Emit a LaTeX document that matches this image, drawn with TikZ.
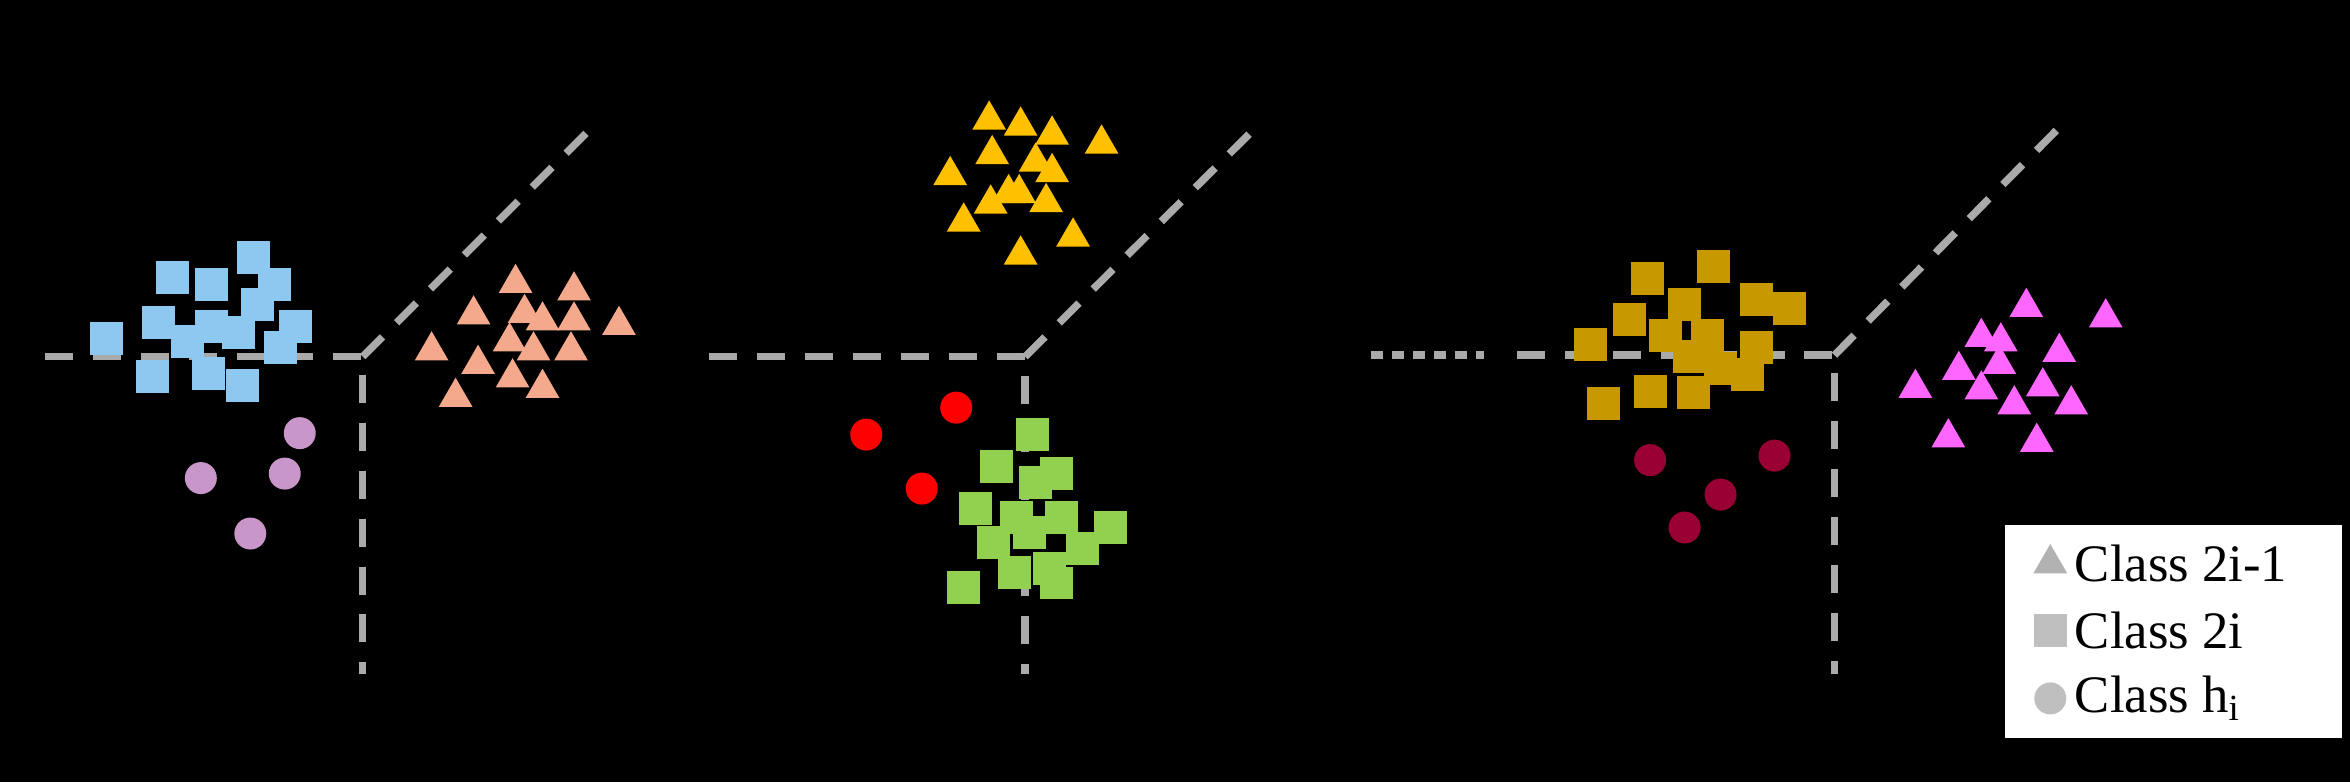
\documentclass[tikz,border=0pt]{standalone}
\usepackage{fontspec}
\setmainfont{Liberation Serif}
\usetikzlibrary{shapes.geometric}

\definecolor{axgray}{HTML}{AAAAAA}
\definecolor{skyb}{HTML}{8CC8F0}
\definecolor{lilac}{HTML}{C896C8}
\definecolor{salmon}{HTML}{F4A88C}
\definecolor{amber}{HTML}{FFC000}
\definecolor{leaf}{HTML}{92D050}
\definecolor{ochre}{HTML}{C89800}
\definecolor{wine}{HTML}{990033}
\definecolor{pinkm}{HTML}{FF66FF}

\tikzset{
  axis/.style={axgray, line width=0.75mm, dash pattern=on 2.8mm off 2mm},
  tri/.style={regular polygon, regular polygon sides=3, minimum size=3.9mm, inner sep=0pt, fill=#1},
  sq/.style={rectangle, minimum size=3.3mm, inner sep=0pt, fill=#1},
  dot/.style={circle, minimum size=3.2mm, inner sep=0pt, fill=#1},
}

\begin{document}
\begin{tikzpicture}[x=0.15mm, y=-0.15mm]
  \fill[black] (0,0) rectangle (1568,522);

  % panel 1
  \coordinate (O1) at (242,238);
  \coordinate (L1) at (30,238);
  \coordinate (D1) at (242,450);
  \coordinate (U1) at (395,85);
  \draw[axis] (L1) -- (O1) -- (D1);
  \draw[axis] (O1) -- (U1);
  \foreach \p [count=\i] in {(115,185),(141,190),(169,172),(183,190),(106,215),(141,218),(125,228),(159,222),(172,203),(197,218),(187,232),(71,226),(102,251),(139,249),(162,257)}
    \node[sq=skyb] (bs\i) at \p {};
  \foreach \p [count=\i] in {(200,289),(134,319),(190,316),(167,356)}
    \node[dot=lilac] (lc\i) at \p {};
  \foreach \p [count=\i] in {(344,189),(383,194),(316,210),(350,209),(362,214),(383,214),(413,217),(288,234),(319,243),(340,228),(356,234),(381,234),(304,265),(342,252),(362,259)}
    \node[tri=salmon] (st\i) at \p {};

  % panel 2
  \coordinate (O2) at (684,238);
  \coordinate (L2) at (473,238);
  \coordinate (D2) at (684,450);
  \coordinate (U2) at (838,85);
  \draw[axis] (L2) -- (O2) -- (D2);
  \draw[axis] (O2) -- (U2);
  \foreach \p [count=\i] in {(660,80),(681,84),(702,90),(735,96),(662,103),(691,108),(702,115),(634,117),(673,129),(680,129),(661,136),(698,135),(643,148),(716,158),(681,170)}
    \node[tri=amber] (at\i) at \p {};
  \foreach \p [count=\i] in {(578,290),(638,272),(615,326)}
    \node[dot=red] (rc\i) at \p {};
  \foreach \p [count=\i] in {(689,290),(665,311),(705,316),(691,322),(651,339),(678,345),(708,345),(741,352),(663,362),(687,355),(722,366),(677,382),(700,379),(643,392),(705,389)}
    \node[sq=leaf] (gs\i) at \p {};

  % panel 3
  \coordinate (O3) at (1224,237);
  \coordinate (L3) at (1012,237);
  \coordinate (D3) at (1224,450);
  \coordinate (U3) at (1377,82);
  \coordinate (P3) at (915,237);
  \coordinate (Q3) at (990,237);
  \draw[axgray, line width=0.75mm, dash pattern=on 1.2mm off 0.9mm] (P3) -- (Q3);
  \draw[axis] (L3) -- (O3) -- (D3);
  \draw[axis] (O3) -- (U3);
  \foreach \p [count=\i] in {(1099,186),(1143,178),(1087,213),(1124,203),(1172,200),(1194,206),(1111,224),(1139,224),(1061,230),(1172,232),(1127,238),(1148,246),(1166,250),(1070,269),(1101,261),(1130,262)}
    \node[sq=ochre] (os\i) at \p {};
  \foreach \p [count=\i] in {(1101,307),(1184,304),(1148,330),(1124,352)}
    \node[dot=wine] (wc\i) at \p {};
  \foreach \p [count=\i] in {(1352,205),(1405,212),(1322,225),(1335,228),(1374,235),(1334,243),(1307,247),(1363,258),(1322,260),(1278,259),(1344,270),(1382,270),(1300,292),(1359,295)}
    \node[tri=pinkm] (mt\i) at \p {};

  % legend
  \node[draw=none, fill=white, minimum width=225*0.15mm, minimum height=142*0.15mm, anchor=north west, inner sep=0pt] (key) at (1337,350) {};
  \node[tri=axgray!90] (k1) at (1368,376) {};
  \node[sq=axgray!75] (k2) at (1368,421) {};
  \node[dot=axgray!75] (k3) at (1368,466) {};
  \node[anchor=west, font=\fontsize{15}{16}\selectfont, inner sep=0pt] (t1) at (1384,376) {Class 2i-1};
  \node[anchor=west, font=\fontsize{15}{16}\selectfont, inner sep=0pt] (t2) at (1384,421) {Class 2i};
  \node[anchor=west, font=\fontsize{15}{16}\selectfont, inner sep=0pt] (t3) at (1384,466) {Class h\textsubscript{i}};
\end{tikzpicture}
\end{document}
